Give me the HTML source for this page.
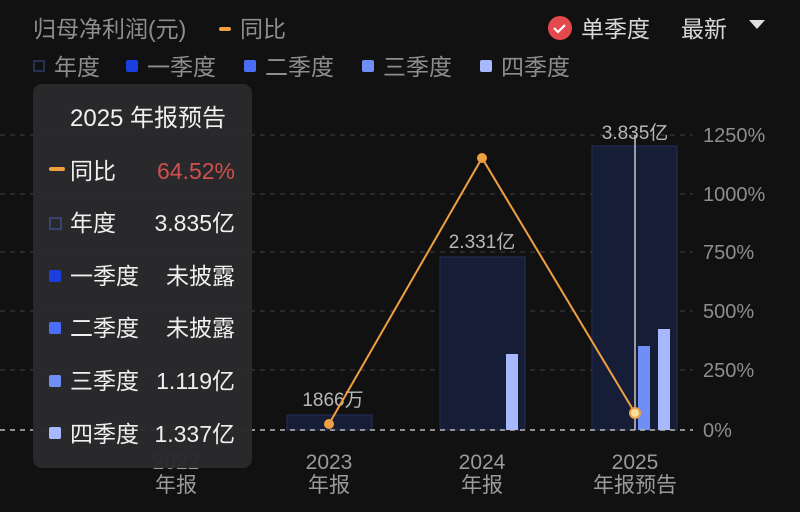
<!DOCTYPE html>
<html><head><meta charset="utf-8"><style>
body{margin:0;background:#111112;width:800px;height:507px;overflow:hidden;font-family:"Liberation Sans","Noto Sans CJK SC",sans-serif}
svg text{font-family:"Liberation Sans","Noto Sans CJK SC",sans-serif}
</style></head><body>
<svg width="800" height="507" xmlns="http://www.w3.org/2000/svg">
<rect width="800" height="507" fill="#111112"/>
<!-- header -->
<text x="33" y="37" font-size="23" fill="#8e8e90">归母净利润(元)</text>
<rect x="219" y="27" width="12" height="4" rx="2" fill="#f0a040"/>
<text x="240" y="37" font-size="23" fill="#8e8e90">同比</text>
<circle cx="560" cy="28" r="12" fill="#e5484d"/>
<path d="M554 28 l4 4 l7 -7" stroke="#fff" stroke-width="2.2" fill="none"/>
<text x="581" y="37" font-size="23" fill="#d8d8d8">单季度</text>
<text x="681" y="37" font-size="23" fill="#d8d8d8">最新</text>
<path d="M749 20 h16 l-8 9 z" fill="#e0e0e0"/>
<!-- legend -->
<rect x="34" y="61" width="10" height="10" fill="none" stroke="#2e3a66" stroke-width="1.5"/>
<text x="54" y="75" font-size="23" fill="#8e8e90">年度</text>
<rect x="126" y="60" width="12" height="12" rx="2" fill="#1a3ee0"/>
<text x="147" y="75" font-size="23" fill="#8e8e90">一季度</text>
<rect x="244" y="60" width="12" height="12" rx="2" fill="#4a6ef5"/>
<text x="265" y="75" font-size="23" fill="#8e8e90">二季度</text>
<rect x="362" y="60" width="12" height="12" rx="2" fill="#6f8ff7"/>
<text x="383" y="75" font-size="23" fill="#8e8e90">三季度</text>
<rect x="480" y="60" width="12" height="12" rx="2" fill="#a8b8ff"/>
<text x="501" y="75" font-size="23" fill="#8e8e90">四季度</text>
<!-- grid -->
<g stroke="#3a3a3c" stroke-width="1.2" stroke-dasharray="5,5">
<line x1="0" y1="135" x2="693" y2="135"/><line x1="0" y1="194" x2="693" y2="194"/>
<line x1="0" y1="252" x2="693" y2="252"/><line x1="0" y1="311" x2="693" y2="311"/>
<line x1="0" y1="370" x2="693" y2="370"/>
</g>
<g font-size="20" fill="#8e8e90">
<text x="703" y="142">1250%</text><text x="703" y="201">1000%</text><text x="703" y="259">750%</text>
<text x="703" y="318">500%</text><text x="703" y="377">250%</text><text x="703" y="437">0%</text>
</g>
<!-- bars -->
<rect x="287" y="415" width="85" height="15" fill="#161d36" stroke="#25305a"/>
<rect x="440" y="257" width="85" height="173" fill="#161d36" stroke="#25305a"/>
<rect x="506" y="354" width="12" height="76" fill="#a8b8ff"/>
<rect x="592" y="146" width="85" height="284" fill="#161d36" stroke="#25305a"/>
<rect x="638" y="346" width="12" height="84" fill="#6f8ff7"/>
<rect x="658" y="329" width="12" height="101" fill="#a8b8ff"/>
<line x1="0" y1="430" x2="693" y2="430" stroke="#bbb" stroke-width="1.5" stroke-dasharray="5,5"/>
<line x1="635" y1="135" x2="635" y2="430" stroke="#c8c8c8" stroke-width="1.5"/>
<g font-size="19" fill="#b8b8b8" text-anchor="middle">
<text x="333" y="406">1866万</text><text x="482" y="248">2.331亿</text><text x="635" y="139">3.835亿</text>
</g>
<polyline points="329,424 482,158 635,413" fill="none" stroke="#f0a040" stroke-width="2"/>
<circle cx="329" cy="424" r="5" fill="#f0a040"/><circle cx="482" cy="158" r="5" fill="#f0a040"/>
<circle cx="635" cy="413" r="5" fill="#f8e0a0" stroke="#f0a040" stroke-width="2"/>
<g font-size="21" fill="#9a9a9c" text-anchor="middle">
<text x="176" y="469">2022</text><text x="176" y="492">年报</text>
<text x="329" y="469">2023</text><text x="329" y="492">年报</text>
<text x="482" y="469">2024</text><text x="482" y="492">年报</text>
<text x="635" y="469">2025</text><text x="635" y="492">年报预告</text>
</g>
<!-- tooltip -->
<rect x="33" y="84" width="219" height="384" rx="9" fill="#2a2a2c" opacity="0.97"/>
<g font-size="23" fill="#f0f0f0">
<text x="70" y="126" font-size="24">2025 年报预告</text>
<rect x="49" y="167" width="16" height="4" rx="2" fill="#f0a040"/>
<text x="70" y="179">同比</text><text x="235" y="179" text-anchor="end" fill="#d05050">64.52%</text>
<rect x="50" y="218" width="11" height="11" fill="none" stroke="#3a4a88" stroke-width="1.5"/>
<text x="70" y="231">年度</text><text x="235" y="231" text-anchor="end">3.835亿</text>
<rect x="49" y="270" width="12" height="12" rx="2" fill="#1a3ee0"/>
<text x="70" y="284">一季度</text><text x="235" y="284" text-anchor="end">未披露</text>
<rect x="49" y="322" width="12" height="12" rx="2" fill="#4a6ef5"/>
<text x="70" y="336">二季度</text><text x="235" y="336" text-anchor="end">未披露</text>
<rect x="49" y="375" width="12" height="12" rx="2" fill="#6f8ff7"/>
<text x="70" y="389">三季度</text><text x="235" y="389" text-anchor="end">1.119亿</text>
<rect x="49" y="427" width="12" height="12" rx="2" fill="#a8b8ff"/>
<text x="70" y="442">四季度</text><text x="235" y="442" text-anchor="end">1.337亿</text>
</g>
</svg>
</body></html>
